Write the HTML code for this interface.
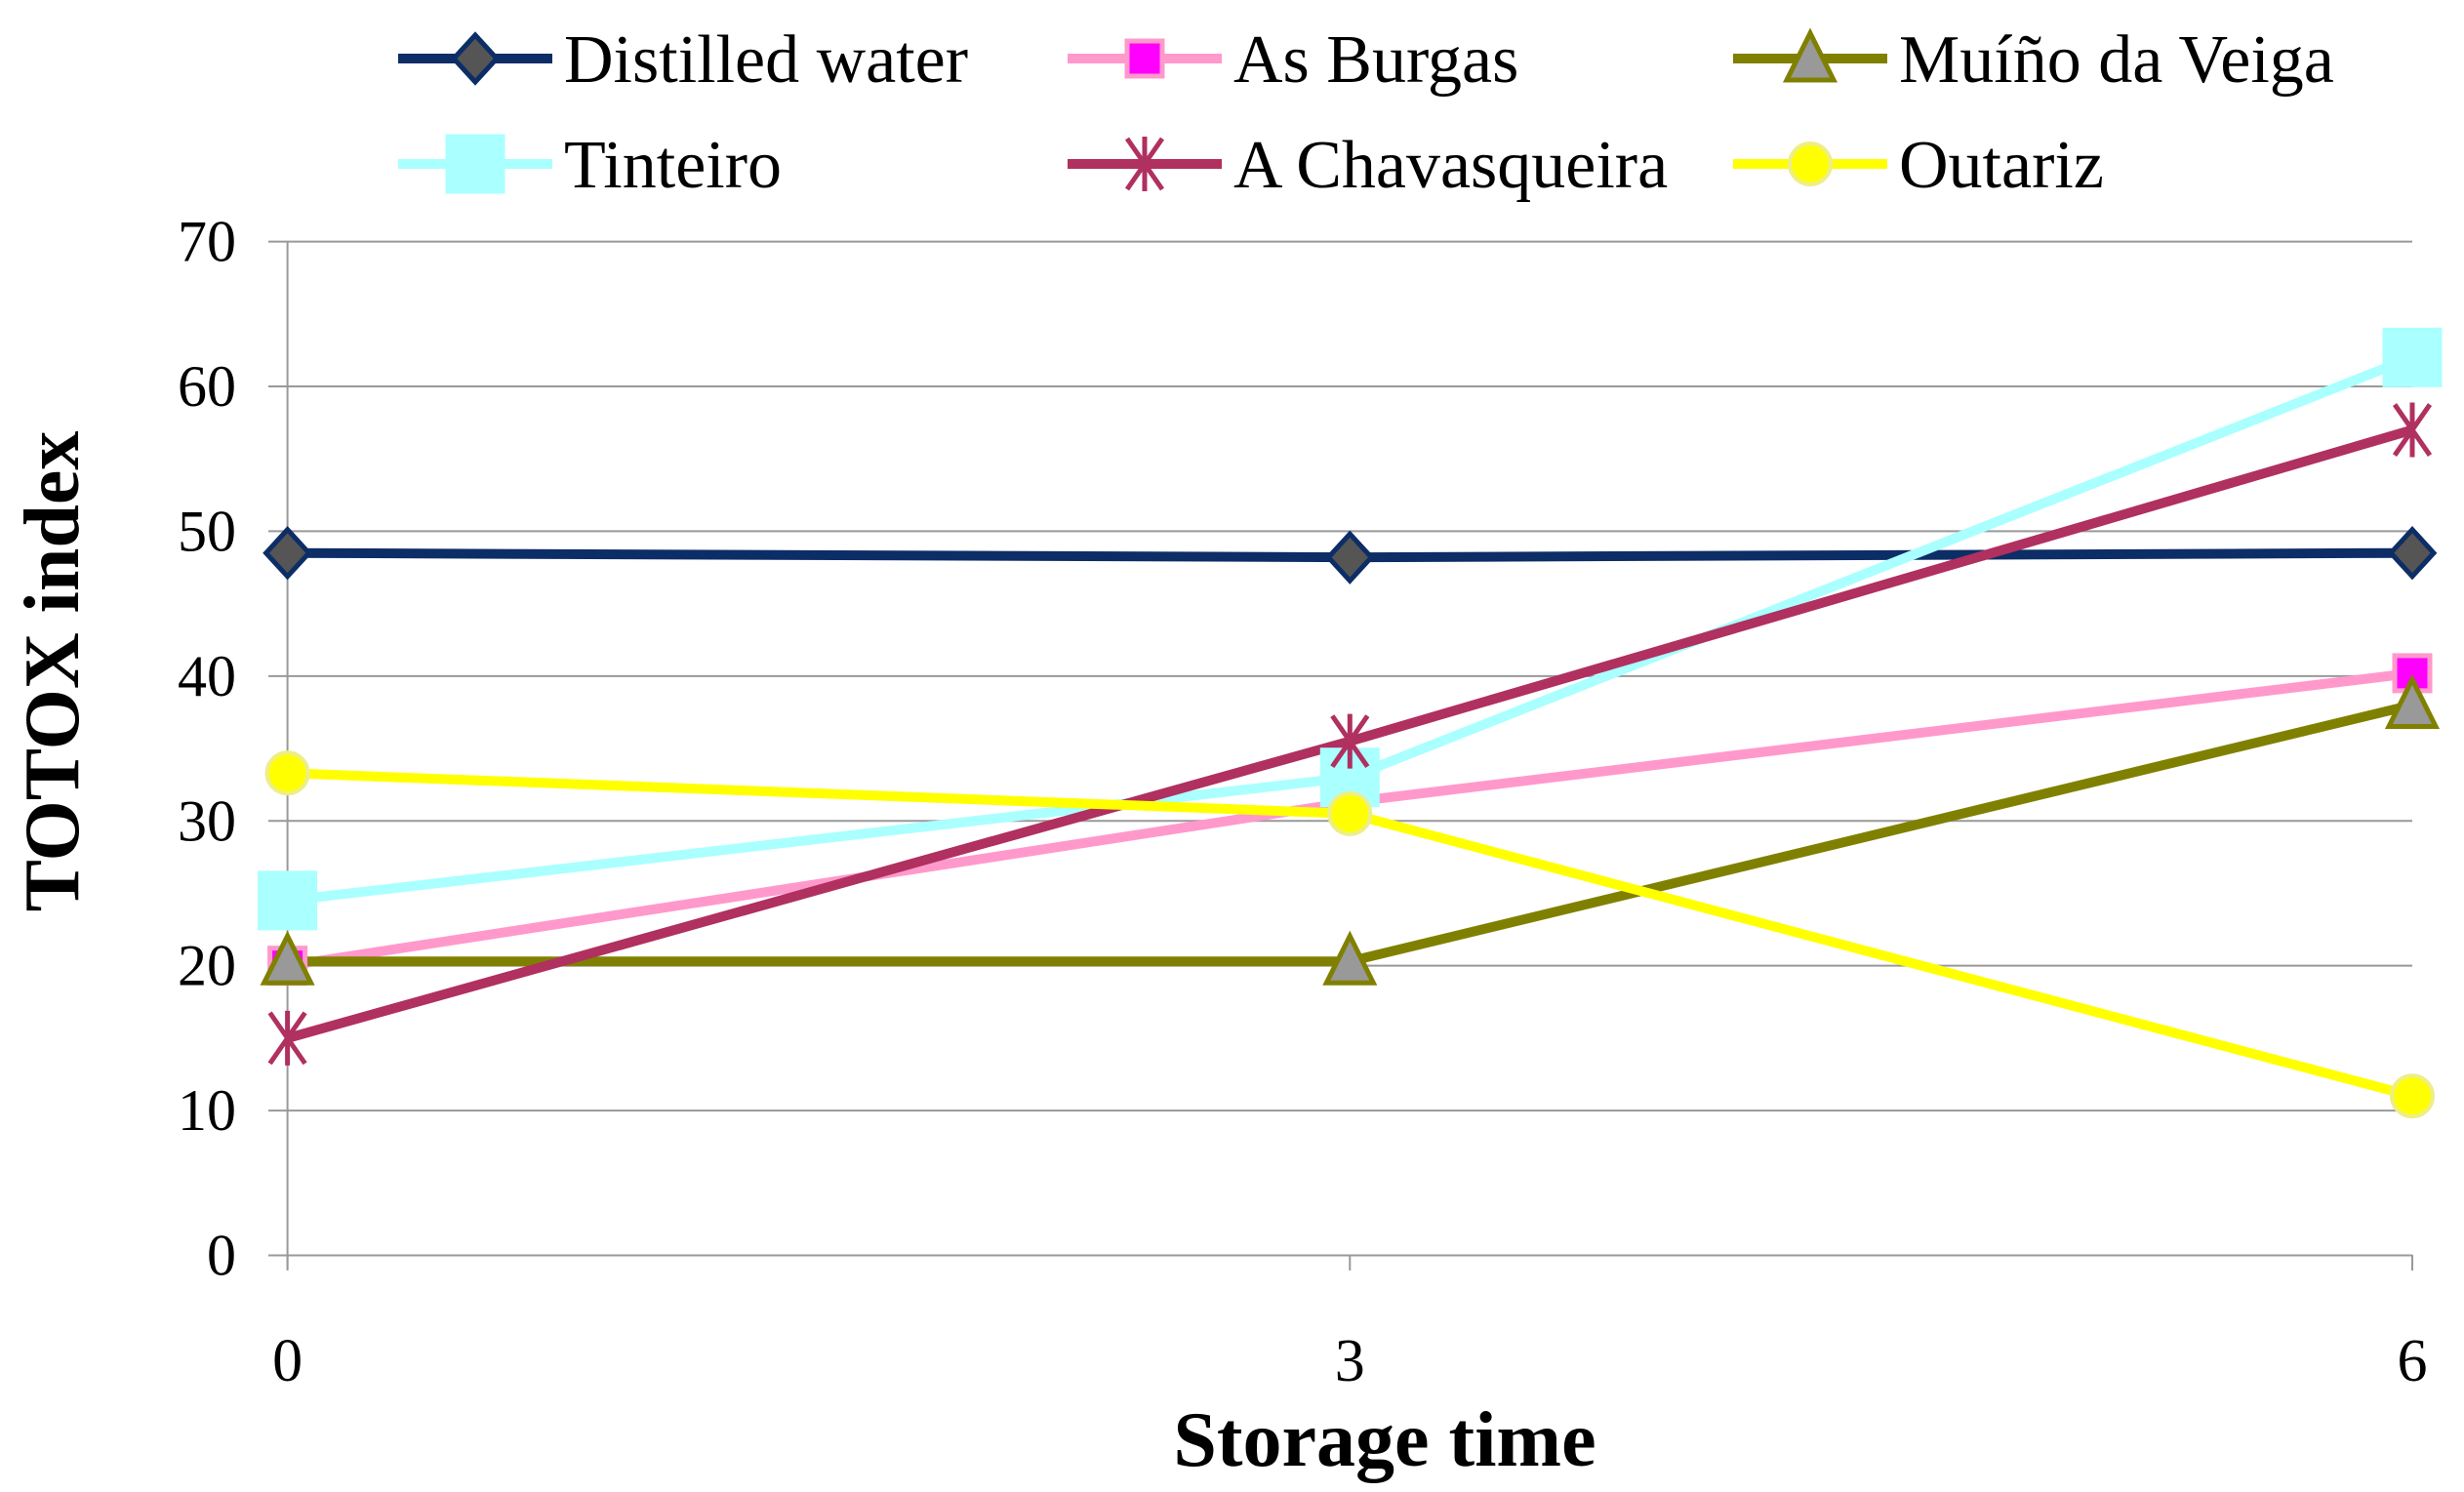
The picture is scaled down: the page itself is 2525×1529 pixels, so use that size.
<!DOCTYPE html>
<html><head><meta charset="utf-8"><style>
body{margin:0;background:#fff}
svg{display:block;font-family:"Liberation Serif",serif}
</style></head><body>
<svg id="chart" width="2525" height="1529">
<g id="grid"></g>
<g id="series"></g>
<g id="legend"></g>
<text x="1419" y="1502" font-size="80" font-weight="bold" text-anchor="middle">Storage  time</text>
<text transform="translate(80,688) rotate(-90)" font-size="80" font-weight="bold" text-anchor="middle">TOTOX index</text>
</svg>
<script>
const categories=[0,3,6];
const yTicks=[0,10,20,30,40,50,60,70];
const names=["Distilled water","As Burgas","Muíño da Veiga","Tinteiro","A Chavasqueira","Outariz"];
const distilled=[48.5,48.2,48.5];
const asBurgas=[20,31.3,40.2];
const muino=[20.3,20.3,38];
const tinteiro=[24.5,33,62];
const chavas=[15,35.5,57];
const outariz=[33.3,30.5,11];
const NS="http://www.w3.org/2000/svg";
function X(v){return 294.6+(v-0)*(2472-294.6)/6;}
function Y(v){return 1286.5-v*(1286.5-247.6)/70;}
function mk(t,a,p){const e=document.createElementNS(NS,t);for(const k in a)e.setAttribute(k,a[k]);(p||document.getElementById('series')).appendChild(e);return e;}
const grid=document.getElementById('grid');
yTicks.forEach(t=>{
 const l=mk('line',{x1:275,x2:2472,y1:Y(t),y2:Y(t),stroke:'#999','stroke-width':2},grid);
 
 
 const tx=mk('text',{x:242,y:Y(t)+20,'font-size':60,'text-anchor':'end'},grid);tx.textContent=t;
 
 
});
mk('line',{x1:294.6,x2:294.6,y1:247.6,y2:1300,stroke:'#999','stroke-width':2},grid);
categories.forEach(c=>{
 mk('line',{x1:X(c),x2:X(c),y1:1286,y2:1302,stroke:'#999','stroke-width':2},grid);
 const tx=mk('text',{x:X(c),y:1415,'font-size':62,'text-anchor':'middle'},grid);tx.textContent=c;
 
 
});
const styles=[
 {d:distilled,c:'#0d2d66',m:'diamond',f:'#555',s:'#0d2d66'},
 {d:asBurgas,c:'#ff99cc',m:'square',f:'#ff00ff',s:'#ff99cc',sz:18},
 {d:muino,c:'#808000',m:'tri',f:'#999',s:'#808000'},
 {d:tinteiro,c:'#aaffff',m:'square',f:'#aaffff',s:'#aaffff',sz:28},
 {d:chavas,c:'#b03060',m:'star',f:'none',s:'#b03060'},
 {d:outariz,c:'#ffff00',m:'circle',f:'#ffff00',s:'#eeee88'}];
function marker(st,x,y,p){
 let e;
 if(st.m==='diamond')e=mk('polygon',{points:`${x},${y-24} ${x+22},${y} ${x},${y+24} ${x-22},${y}`,fill:st.f,stroke:st.s,'stroke-width':5},p);
 else if(st.m==='square'){const s=st.sz;e=mk('rect',{x:x-s,y:y-s,width:2*s,height:2*s,fill:st.f,stroke:st.s,'stroke-width':5},p);}
 else if(st.m==='tri')e=mk('polygon',{points:`${x},${y-26} ${x+24},${y+22} ${x-24},${y+22}`,fill:st.f,stroke:st.s,'stroke-width':5},p);
 else if(st.m==='circle')e=mk('circle',{cx:x,cy:y,r:21,fill:st.f,stroke:st.s,'stroke-width':4},p);
 else {e=mk('path',{d:`M${x-18} ${y-26}L${x+18} ${y+26}M${x+18} ${y-26}L${x-18} ${y+26}M${x} ${y-28}L${x} ${y+28}`,stroke:st.s,'stroke-width':5,fill:'none'},p);}
 return e;
}
styles.forEach((st,i)=>{
 const pl=mk('polyline',{points:st.d.map((v,j)=>X(categories[j])+','+Y(v)).join(' '),fill:'none',stroke:st.c,'stroke-width':10});
 
 
});
styles.forEach((st,i)=>{
 st.d.forEach((v,j)=>{const m=marker(st,X(categories[j]),Y(v));
 
 });
});
const lg=document.getElementById('legend');
const lx=[408,1094,1776], ly=[60,168];
styles.forEach((st,i)=>{
 const x=lx[i%3], y=ly[Math.floor(i/3)];
 const g=mk('g',{},lg);
 
 
 mk('line',{x1:x,x2:x+158,y1:y,y2:y,stroke:st.c,'stroke-width':10},g);
 marker(st,x+79,y,g);
 const t=mk('text',{x:x+170,y:y+24,'font-size':70},g);t.textContent=names[i];
});
</script>
</body></html>
